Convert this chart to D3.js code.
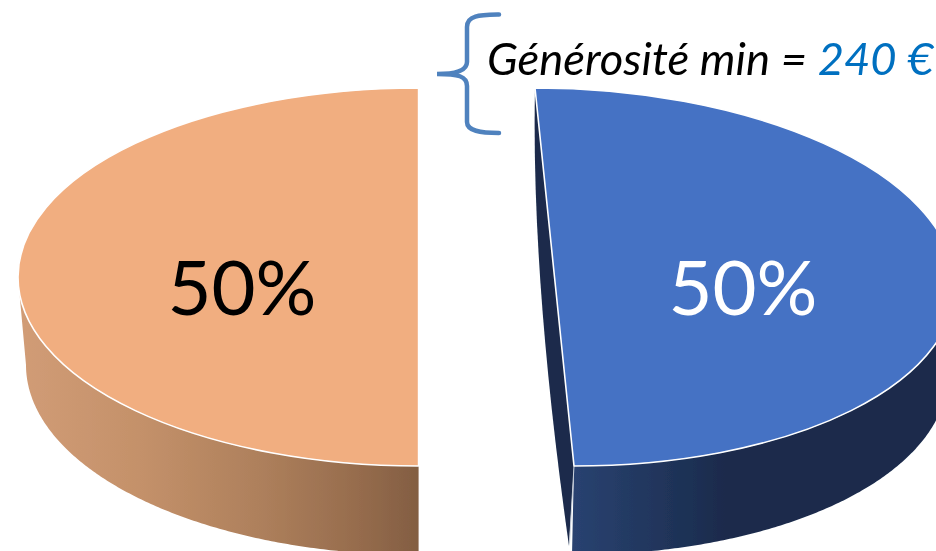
<!DOCTYPE html>
<html><head><meta charset="utf-8">
<script src="https://cdn.jsdelivr.net/npm/d3@7"></script>
<style>html,body{margin:0;padding:0;background:#fff;overflow:hidden}svg{display:block}</style>
</head><body><svg id="c" width="936" height="551"></svg>
<script>
const categories = ["Bénéficiaires", "Non-bénéficiaires"];
const values = [50, 50];
const labels = ["50%", "50%"];
const noteText = "Générosité min = ";
const noteValue = "240 €";

const W = 936, H = 551, R = 100;
const topFill = ["#4472C4", "#F1AE80"];
const labelFill = ["#ffffff", "#000000"];
// Each slice: projected ellipse of the top face, and of the bottom face
const geom = [
  {top:{cx:554.5,cy:277,rx:400,ry:189,sk:19.5}, bot:{cx:552.5,cy:365,rx:395,ry:190,sk:19.5}, lx:743},
  {top:{cx:418.6,cy:277,rx:400.6,ry:189,sk:0},  bot:{cx:418.6,cy:365,rx:392.6,ry:190,sk:0},  lx:242}
];
const svg = d3.select("#c").attr("viewBox",[0,0,W,H]);
const defs = svg.append("defs");
function grad(id,x1,x2,stops){
  const g = defs.append("linearGradient").attr("id",id).attr("gradientUnits","userSpaceOnUse")
    .attr("x1",x1).attr("x2",x2).attr("y1",0).attr("y2",0);
  stops.forEach(s=>g.append("stop").attr("offset",s[0]).attr("stop-color",s[1]));
}
grad("side0",574,725,[[0,"#294270"],[1,"#1A2B4C"]]);
grad("side1",20,418,[[0,"#D19C76"],[0.3,"#C4916A"],[0.6,"#AE805C"],[0.85,"#966C4D"],[1,"#835E42"]]);
defs.append("filter").attr("id","soft").attr("filterUnits","userSpaceOnUse")
  .attr("x",-10).attr("y",-10).attr("width",W+20).attr("height",H+20)
  .append("feGaussianBlur").attr("stdDeviation",0.45);
const root = svg.append("g").attr("filter","url(#soft)");

const pie = d3.pie().sort(null).value(d=>d)(values);
const arc = d3.arc().innerRadius(0).outerRadius(R);
const proj = (e,a)=>({x:e.cx+e.rx*Math.sin(a)-e.sk*Math.cos(a), y:e.cy-e.ry*Math.cos(a)});

// inner cut face of the pulled-out blue slice
const t0 = proj(geom[0].top,0), t1 = proj(geom[0].top,Math.PI);
const b1 = proj(geom[0].bot,Math.PI);
const cut = d3.path();
cut.moveTo(t0.x,t0.y);
cut.quadraticCurveTo(t0.x-4,t0.y+190,b1.x-3,b1.y-9);
cut.lineTo(t1.x,t1.y); cut.closePath();
root.append("path").attr("d",cut.toString()).attr("fill","#1A2B4C");

// side walls
const sweep = [[Math.PI/2-0.02,Math.PI],[Math.PI,1.5*Math.PI]];
pie.forEach((p,i)=>{
  const g = geom[i];
  const angles = d3.range(0,181).map(k=>sweep[i][0]+(sweep[i][1]-sweep[i][0])*k/180);
  const wall = d3.area()
    .x0(a=>proj(g.top,a).x).y0(a=>proj(g.top,a).y)
    .x1(a=>proj(g.bot,a).x).y1(a=>proj(g.bot,a).y);
  root.append("path").attr("d",wall(angles)).attr("fill",`url(#side${i})`);
});
// pale edge between cut face and wall
root.append("line").attr("x1",t1.x).attr("y1",t1.y).attr("x2",b1.x-2.5).attr("y2",b1.y-12)
  .attr("stroke","#C9CFDA").attr("stroke-width",1);
// top faces
pie.forEach((p,i)=>{
  const e = geom[i].top;
  root.append("path").attr("d",arc(p))
    .attr("transform",`matrix(${e.rx/R},0,${e.sk/R},${e.ry/R},${e.cx},${e.cy})`)
    .attr("fill",topFill[i]).attr("stroke","#ffffff").attr("stroke-width",1.6)
    .attr("vector-effect","non-scaling-stroke").attr("stroke-linejoin","round");
  root.append("text").attr("x",geom[i].lx).attr("y",315).attr("text-anchor","middle")
    .attr("font-family","Lato").attr("font-size",76).attr("fill",labelFill[i]).text(labels[i]);
});
// brace
const bp = d3.path();
bp.moveTo(499,14.5);
bp.bezierCurveTo(480,15,467,15,467,27);
bp.lineTo(467,62);
bp.bezierCurveTo(467,70,458,74,437,74);
bp.bezierCurveTo(458,74,467,76,467,86);
bp.lineTo(467,122);
bp.bezierCurveTo(467,131,480,133,499,133);
root.append("path").attr("d",bp.toString()).attr("fill","none")
  .attr("stroke","#5082BE").attr("stroke-width",4.5).attr("stroke-linecap","round");
// annotation
const t = root.append("text").attr("x",487).attr("y",75).attr("font-family","Lato")
  .attr("font-style","italic").attr("font-size",45.4).attr("fill","#000");
t.append("tspan").style("white-space","pre").text(noteText);
t.append("tspan").attr("fill","#0070C0").text(noteValue);
</script></body></html>
